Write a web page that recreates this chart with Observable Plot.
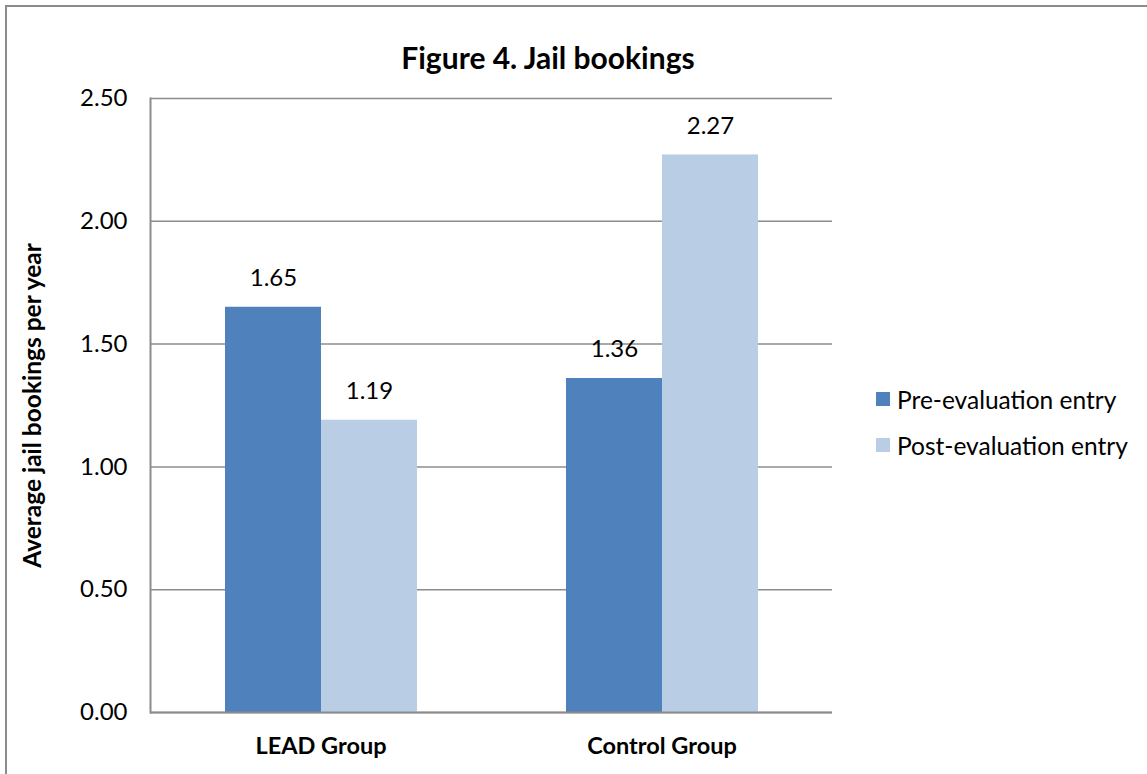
<!DOCTYPE html>
<html>
<head>
<meta charset="utf-8">
<script src="https://cdn.jsdelivr.net/npm/d3@7"></script>
<script src="https://cdn.jsdelivr.net/npm/@observablehq/plot@0.6"></script>
<style>
  html, body { margin: 0; padding: 0; background: #fff; }
  body { font-family: Lato, "Open Sans", sans-serif; }
  #wrap { position: relative; width: 1147px; height: 774px; overflow: hidden; }
  #frame { position: absolute; left: 5px; top: 5px; width: 1300px; height: 900px;
           border-left: 2px solid #8c8c8c; border-top: 2px solid #8c8c8c; box-sizing: border-box; }
  #title { position: relative; height: 80px; width: 1096px; text-align: center;
           font-weight: bold; font-size: 30px; line-height: 1; padding-top: 42px; box-sizing: border-box; color: #000; }
  #legend { position: absolute; left: 876px; top: 376px; font-size: 24.5px; color: #000; }
  #legend .row { display: flex; align-items: center; height: 46px; }
  #legend .sw { width: 14px; height: 14px; margin-right: 7px; }
  svg { display: block; }
</style>
</head>
<body>
<div id="wrap">
  <div id="frame"></div>
  <div id="title"></div>
  <div id="chart"></div>
  <div id="legend"></div>
</div>
<script>
// Average jail bookings per year, by group and evaluation period
const titleText = "Figure 4. Jail bookings";
const yLabel = "Average jail bookings per year";
const groups = ["LEAD Group", "Control Group"];
const periods = ["Pre-evaluation entry", "Post-evaluation entry"];
const preValues = [1.65, 1.36];
const postValues = [1.19, 2.27];
const yTicks = [0, 0.5, 1.0, 1.5, 2.0, 2.5];
const colors = ["#4F81BD", "#B9CDE5"];

const rows = groups.flatMap((g, i) => [
  {group: g, period: periods[0], value: preValues[i]},
  {group: g, period: periods[1], value: postValues[i]}
]);

document.getElementById("title").textContent = titleText;

const gridColor = "#8c8c8c";

const chart = Plot.plot({
  width: 1147,
  height: 694,
  marginLeft: 150,
  marginRight: 315,
  marginTop: 18,
  marginBottom: 62,
  style: {fontFamily: "Lato, 'Open Sans', sans-serif", color: "#000", background: "transparent"},
  fx: {domain: groups, padding: 0, label: null},
  x: {domain: periods, paddingInner: 0, paddingOuter: 0.758, axis: null},
  y: {domain: [0, 2.5], label: null},
  color: {domain: periods, range: colors},
  marks: [
    Plot.gridY(yTicks, {stroke: gridColor, strokeOpacity: 1, strokeWidth: 1.5}),
    Plot.barY(rows, {fx: "group", x: "period", y: "value", fill: "period"}),
    Plot.text(rows, {fx: "group", x: "period", y: "value", text: d => d.value.toFixed(2),
      dy: -29, fontSize: 24, fill: "#000"}),
    Plot.ruleY([0], {stroke: gridColor, strokeWidth: 2}),
    Plot.frame({anchor: "left", facetAnchor: "left", stroke: gridColor, strokeWidth: 2}),
    Plot.axisY(yTicks, {tickSize: 0, tickPadding: 23, tickFormat: d => d.toFixed(2),
      fontSize: 24, label: null, facetAnchor: "left"}),
    Plot.text([yLabel], {frameAnchor: "left", rotate: -90, dx: -117, fontSize: 24.5,
      textAnchor: "middle", fontWeight: "bold", facetAnchor: "left", fill: "#000"}),
    Plot.axisFx({anchor: "bottom", tickSize: 0, tickPadding: 25, fontSize: 23.5,
      fontWeight: "bold", label: null})
  ]
});
document.getElementById("chart").appendChild(chart);

const legend = document.getElementById("legend");
periods.forEach((p, i) => {
  const row = document.createElement("div");
  row.className = "row";
  const sw = document.createElement("span");
  sw.className = "sw";
  sw.style.background = colors[i];
  const label = document.createElement("span");
  label.textContent = p;
  row.appendChild(sw);
  row.appendChild(label);
  legend.appendChild(row);
});
</script>
</body>
</html>
